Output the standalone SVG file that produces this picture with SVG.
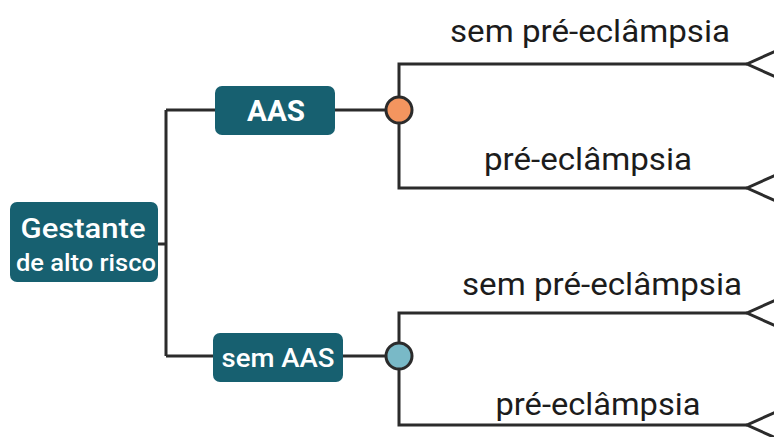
<svg xmlns="http://www.w3.org/2000/svg" width="774" height="437" viewBox="0 0 774 437">
<style>
.ln{fill:none;stroke:#2b2b2b;stroke-width:3;stroke-linejoin:miter}
.box{fill:#176070}
.wt{fill:#fff;font-family:Roboto,"Liberation Sans",sans-serif;text-anchor:middle}
.lb{fill:#1c1c1c;font-family:Roboto,"Liberation Sans",sans-serif;font-size:31px;text-anchor:middle}
.ch{stroke:#2b2b2b;stroke-width:3}
.term{fill:#fff;stroke:#2b2b2b;stroke-width:3}
</style>
<rect width="774" height="437" fill="#fff"/>
<g id="connectors">
<path class="ln" d="M158 244H166M166 110V356M166 110H215M166 356H213"/>
<path class="ln" d="M335 110H386M343 356H386"/>
<path class="ln" d="M399 97V64H747M399 123V188H747"/>
<path class="ln" d="M399 343V313H747M399 369V425H747"/>
</g>
<g id="root">
<rect class="box" x="10" y="202" width="148" height="80" rx="7"/>
<text class="wt" x="83" y="238" font-size="28" font-weight="500" textLength="125" lengthAdjust="spacingAndGlyphs">Gestante</text>
<text class="wt" x="86" y="271" font-size="23" font-weight="500" textLength="140" lengthAdjust="spacingAndGlyphs">de alto risco</text>
</g>
<g id="aas">
<rect class="box" x="215" y="86" width="120" height="49" rx="7"/>
<text class="wt" x="276" y="121" font-size="29" font-weight="bold" textLength="58" lengthAdjust="spacingAndGlyphs">AAS</text>
</g>
<g id="semaas">
<rect class="box" x="213" y="333" width="130" height="49" rx="7"/>
<text class="wt" x="278" y="367" font-size="25" font-weight="500" textLength="113" lengthAdjust="spacingAndGlyphs">sem AAS</text>
</g>
<g id="chance1"><circle class="ch" cx="399" cy="110" r="13" fill="#f4955f"/></g>
<g id="chance2"><circle class="ch" cx="399" cy="356" r="13" fill="#79b9c7"/></g>
<g id="t1"><path class="term" d="M778 50L747 64L778 78"/></g>
<g id="t2"><path class="term" d="M778 174L747 188L778 202"/></g>
<g id="t3"><path class="term" d="M778 299L747 313L778 327"/></g>
<g id="t4"><path class="term" d="M778 411L747 425L778 439"/></g>
<g id="labels">
<text class="lb" x="590" y="42" textLength="280" lengthAdjust="spacingAndGlyphs">sem pré-eclâmpsia</text>
<text class="lb" x="588" y="170" textLength="208" lengthAdjust="spacingAndGlyphs">pré-eclâmpsia</text>
<text class="lb" x="602" y="295" textLength="280" lengthAdjust="spacingAndGlyphs">sem pré-eclâmpsia</text>
<text class="lb" x="598" y="415" textLength="205" lengthAdjust="spacingAndGlyphs">pré-eclâmpsia</text>
</g>
</svg>
